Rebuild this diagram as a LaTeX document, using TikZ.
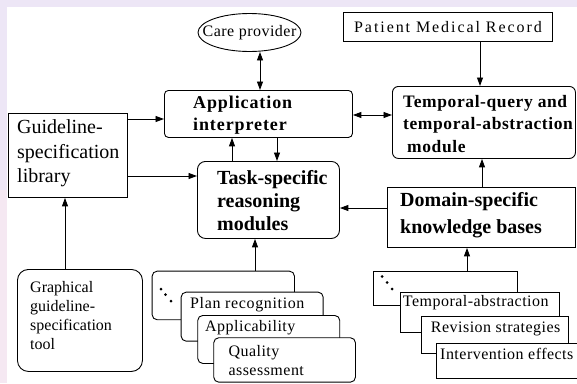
\documentclass[tikz,border=0pt]{standalone}
\usepackage{fontspec}
\setmainfont{Liberation Serif}
\usetikzlibrary{arrows.meta,shapes.geometric}
\newcommand\fz[3]{\fontsize{#1}{#2}\selectfont\addfontfeatures{LetterSpace=#3}}
\definecolor{bgl}{RGB}{237,230,246}
\definecolor{bgp}{RGB}{245,232,242}
\begin{document}
\begin{tikzpicture}[x=1pt,y=-1pt,
  box/.style={draw, line width=0.9pt, fill=white, inner sep=0pt, anchor=north west},
  rbox/.style={box, rounded corners=#1},
  txt/.style={inner sep=0pt, align=left, anchor=west},
  stx/.style={inner sep=0pt, anchor=base west, font={\fz{16}{19}{3}}},
  arr/.style={line width=0.9pt, -{Triangle[length=8.5pt,width=6pt]}},
  dbl/.style={line width=0.9pt, {Triangle[length=8.5pt,width=6pt]}-{Triangle[length=8.5pt,width=6pt]}},
  dotc/.style={fill=black, circle, inner sep=0pt, minimum size=3pt}
]
\useasboundingbox (0,0) rectangle (577,383);
\fill[bgl] (0,0) rectangle (577,383);
\fill[bgp] (0,190) rectangle (7,383);
\fill[white] (7,7) rectangle (577,383);

% top row
\node[box, anchor=center, ellipse, minimum width=103, minimum height=38] (care) at (249.5,32.5) {};
\node[inner sep=0pt, font={\fz{16}{19}{3}}] (care-t) at (care.center) {Care provider};

\node[box, minimum width=209, minimum height=29] (pmr) at (343,12) {};
\node[inner sep=0pt, font={\fz{16}{19}{12}}] (pmr-t) at (pmr.center) {Patient Medical Record};

% middle boxes
\node[rbox=4, minimum width=188, minimum height=47] (app) at (164,90) {};
\node[txt, font={\bfseries\fz{18}{22}{5}}] (app-t) at ([xshift=29pt,yshift=-1.5pt]app.west) {Application\\interpreter};

\node[rbox=6, minimum width=183, minimum height=72] (temp) at (392,86) {};
\node[txt, font={\bfseries\fz{17.5}{22.5}{3.4}}] (temp-t) at ([xshift=11pt,yshift=-1.5pt]temp.west) {Temporal-query and\\temporal-abstraction\\\hspace*{4pt}module};

\node[box, minimum width=119, minimum height=84] (guide) at (8,113) {};
\node[txt, font={\fz{20}{24.5}{0}}] (guide-t) at ([xshift=9pt,yshift=2.2pt]guide.west) {Guideline-\\specification\\library};

\node[rbox=8, minimum width=142, minimum height=77] (task) at (197,161) {};
\node[txt, font={\bfseries\fz{20}{23}{0}}] (task-t) at ([xshift=20pt,yshift=-0.6pt]task.west) {Task-specific\\reasoning\\modules};

\node[box, minimum width=188, minimum height=60] (dom) at (387,187) {};
\node[txt, font={\bfseries\fz{20}{27}{0}}] (dom-t) at ([xshift=13pt,yshift=2.2pt]dom.west) {Domain-specific\\knowledge bases};

\node[rbox=11, minimum width=125, minimum height=102] (graph) at (17,269) {};
\node[txt, font={\fz{16}{18.8}{0}}] (graph-t) at ([xshift=13pt,yshift=5pt]graph.west) {Graphical\\guideline-\\specification\\tool};

% stack of task-specific modules
\node[rbox=5, minimum width=142.3, minimum height=48.6] (s1a) at (151.7,270.7) {};
\node[dotc] (d1) at (161,289) {};
\node[dotc] (d2) at (165.5,294.5) {};
\node[dotc] (d3) at (171,301) {};
\node[rbox=5, minimum width=142, minimum height=49] (s1b) at (180.7,291.7) {};
\node[stx, font={\fz{16}{19}{4}}] (s1b-t) at ([xshift=9.3pt,yshift=-16.6pt]s1b.north west) {Plan recognition};
\node[rbox=5, minimum width=142, minimum height=48] (s1c) at (197.3,315) {};
\node[stx] (s1c-t) at ([xshift=7.7pt,yshift=-16pt]s1c.north west) {Applicability};
\node[rbox=5, minimum width=141.7, minimum height=44.4] (s1d) at (213.3,337.3) {};
\node[stx, anchor=north west, align=left] (s1d-t) at ([xshift=15pt,yshift=-7.8pt]s1d.north west) {Quality\\assessment};

% stack of knowledge bases
\node[box, minimum width=144.3, minimum height=34.3] (s2a) at (372.7,270.7) {};
\node[dotc] (e1) at (382,276.5) {};
\node[dotc] (e2) at (387,282.5) {};
\node[dotc] (e3) at (392,289) {};
\node[box, minimum width=159, minimum height=40] (s2b) at (400,291.7) {};
\node[stx] (s2b-t) at ([xshift=2.7pt,yshift=-14.3pt]s2b.north west) {Temporal-abstraction};
\node[box, minimum width=147.3, minimum height=36.7] (s2c) at (420.7,316) {};
\node[stx] (s2c-t) at ([xshift=10pt,yshift=-16pt]s2c.north west) {Revision strategies};
\node[box, minimum width=140.5, minimum height=35.6] (s2d) at (436,342.7) {};
\node[stx] (s2d-t) at ([xshift=4pt,yshift=-17pt]s2d.north west) {Intervention effects};

% connectors
\draw[dbl] (care.south -| 260,0) -- (app.north -| 260,0);
\draw[arr] (pmr.south -| 480,0) -- (temp.north -| 480,0);
\draw[dbl] (app.east |- 0,115) -- (temp.west |- 0,115);
\draw[arr] (guide.east |- 0,119) -- (app.west |- 0,119);
\draw[arr] (guide.east |- 0,176) -- (task.west |- 0,176);
\draw[arr] (task.north -| 232,0) -- (app.south -| 232,0);
\draw[arr] (app.south -| 277,0) -- (task.north -| 277,0);
\draw[arr] (dom.west |- 0,208) -- (task.east |- 0,208);
\draw[arr] (dom.north -| 482,0) -- (temp.south -| 482,0);
\draw[arr] (graph.north -| 65,0) -- (guide.south -| 65,0);
\draw[arr] (s1a.north -| 255,0) -- (task.south -| 255,0);
\draw[arr] (s2a.north -| 467,0) -- (dom.south -| 467,0);
\end{tikzpicture}
\end{document}
